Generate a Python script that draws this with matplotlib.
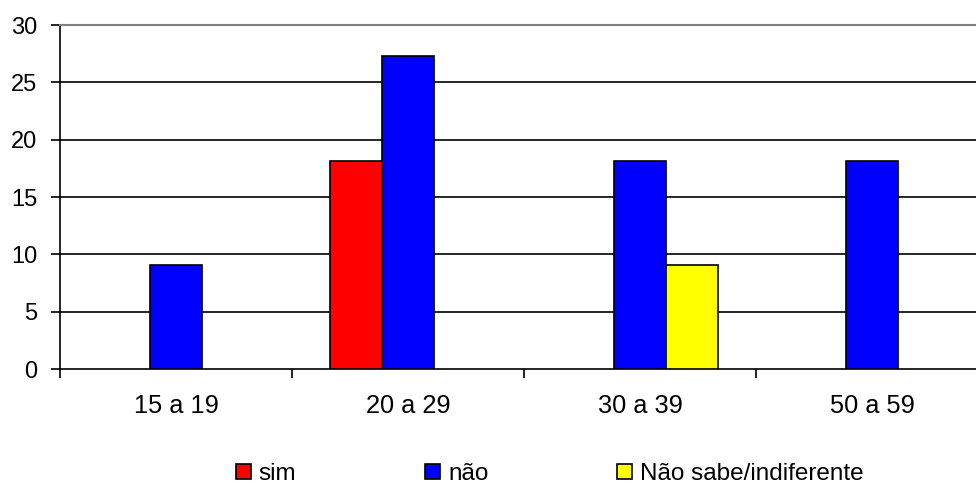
import matplotlib
matplotlib.use("Agg")
import matplotlib.pyplot as plt
import numpy as np
from matplotlib.patches import Patch

categories = ["15 a 19", "20 a 29", "30 a 39", "50 a 59"]
series_names = ["sim", "não", "Não sabe/indiferente"]
sim = [0, 18.18, 0, 0]
nao = [9.09, 27.27, 18.18, 18.18]
nao_sabe = [0, 0, 9.09, 0]
colors = ["#FF0000", "#0000FF", "#FFFF00"]
yticks = [0, 5, 10, 15, 20, 25, 30]

plt.rcParams['font.family'] = ['Liberation Sans', 'DejaVu Sans']
fs = 18.3
fs_y = 17
fs_leg = 17.5

fig = plt.figure(figsize=(9.76, 4.88), dpi=100)
ax = fig.add_axes([60/976, 1-369/488, 928/976, (369-25)/488])

x = np.arange(len(categories))
w = 52/232
for i, (vals, c) in enumerate(zip([sim, nao, nao_sabe], colors)):
    v = np.array(vals, dtype=float)
    v[v == 0] = np.nan
    ax.bar(x + (i-1)*w, v, width=w, color=c, edgecolor="black", linewidth=1.2, zorder=3)

ax.set_xlim(-0.5, len(categories)-0.5)
ax.set_ylim(0, 30)
ax.set_yticks(yticks)
ax.set_yticklabels([str(t) for t in yticks], fontsize=fs_y)
for t in yticks[1:-1]:
    ax.axhline(t, color="black", linewidth=1.2, zorder=1)

ax.set_xticks(x)
ax.set_xticklabels(categories, fontsize=fs)
ax.set_xticks(np.arange(-0.5, len(categories), 1.0), minor=True)
ax.tick_params(axis='x', which='major', length=0, pad=18)
ax.tick_params(axis='x', which='minor', length=6.5, width=1.2, direction='out')
ax.tick_params(axis='y', length=6.5, width=1.2, pad=10, direction='out')

ax.spines['right'].set_visible(False)
ax.spines['top'].set_color("#808080")
ax.spines['top'].set_linewidth(1.5)
ax.spines['left'].set_linewidth(1.2)
ax.spines['bottom'].set_linewidth(1.2)

handles = [Patch(facecolor=c, edgecolor="black", linewidth=1.2) for c in colors]
fig.legend(handles, series_names, loc='center left', bbox_to_anchor=(236/976, 1-474/488),
           ncol=3, frameon=False, fontsize=fs_leg, borderpad=0, borderaxespad=0,
           handlelength=0.62, handleheight=0.62, handletextpad=0.32, columnspacing=5.3)

fig.savefig("out.png", dpi=100)
